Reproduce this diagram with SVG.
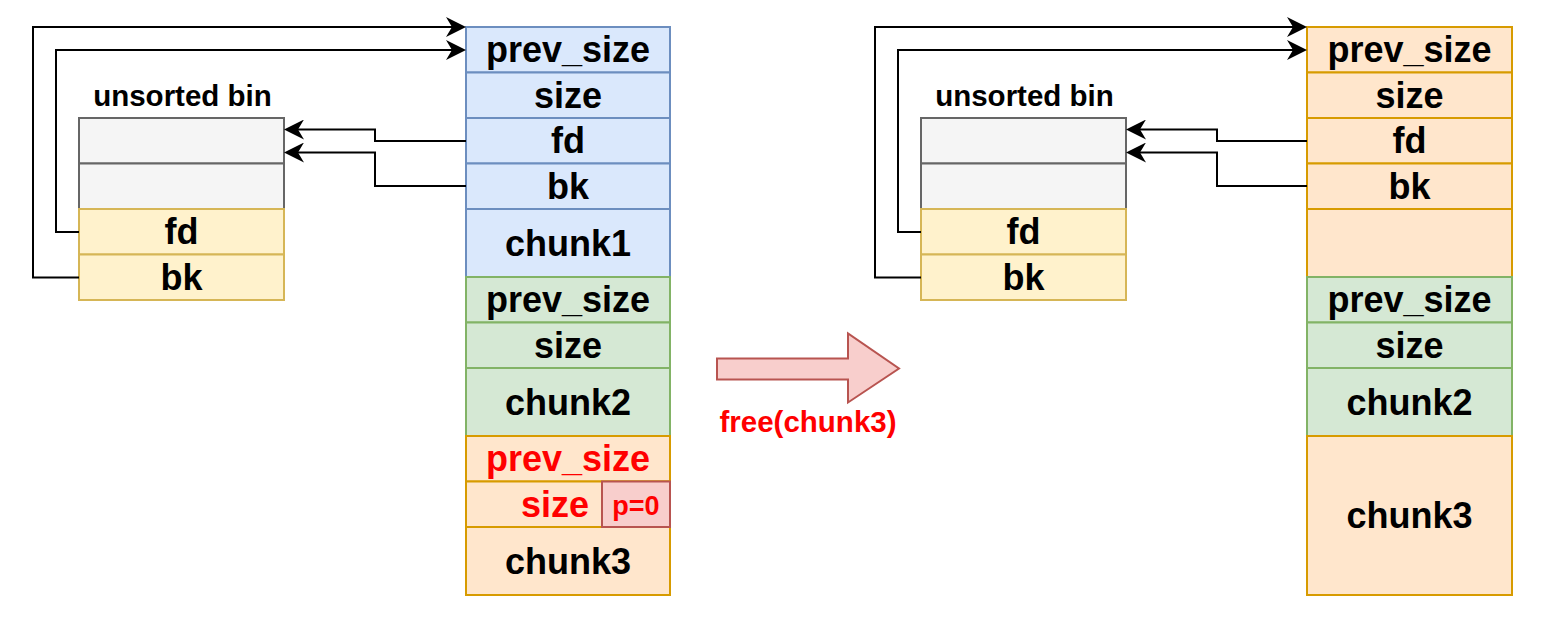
<svg xmlns="http://www.w3.org/2000/svg" width="1557" height="621" viewBox="0 0 1557 621">
<style>
text{font-family:"Liberation Sans",Arial,sans-serif;font-weight:bold;text-anchor:middle;fill:#000}
.big{font-size:36px}
.mid{font-size:29.5px}
.red{fill:#ff0000}
.blue{fill:#dae8fc;stroke:#6c8ebf;stroke-width:2}
.green{fill:#d5e8d4;stroke:#82b366;stroke-width:2}
.orange{fill:#ffe6cc;stroke:#d79b00;stroke-width:2}
.yellow{fill:#fff2cc;stroke:#d6b656;stroke-width:2}
.gray{fill:#f5f5f5;stroke:#666666;stroke-width:2}
.pink{fill:#f8cecc;stroke:#b85450;stroke-width:2}
.conn{fill:none;stroke:#000;stroke-width:2}
</style>
<defs>
<marker id="arr" viewBox="0 0 20 20" refX="8" refY="10" markerWidth="20" markerHeight="20" markerUnits="userSpaceOnUse" orient="auto">
<path d="M0,0 L20,10 L0,20 L6,10 Z" fill="#000"/>
</marker>
</defs>
<rect width="1557" height="621" fill="#fff"/>

<!-- LEFT -->
<g id="left-chunk1">
<rect class="blue" x="466" y="27" width="204" height="45.5"/>
<rect class="blue" x="466" y="72.5" width="204" height="45.5"/>
<rect class="blue" x="466" y="118" width="204" height="45.5"/>
<rect class="blue" x="466" y="163.5" width="204" height="45.5"/>
<rect class="blue" x="466" y="209" width="204" height="68"/>
<text class="big" x="568" y="62">prev_size</text>
<text class="big" x="568" y="108">size</text>
<text class="big" x="568" y="153">fd</text>
<text class="big" x="568" y="199">bk</text>
<text class="big" x="568" y="256">chunk1</text>
</g>
<g id="left-chunk2">
<rect class="green" x="466" y="277" width="204" height="45.5"/>
<rect class="green" x="466" y="322.5" width="204" height="45.5"/>
<rect class="green" x="466" y="368" width="204" height="68"/>
<text class="big" x="568" y="312">prev_size</text>
<text class="big" x="568" y="358">size</text>
<text class="big" x="568" y="415">chunk2</text>
</g>
<g id="left-chunk3">
<rect class="orange" x="466" y="436" width="204" height="45.5"/>
<rect class="orange" x="466" y="481.5" width="204" height="45.5"/>
<rect class="orange" x="466" y="527" width="204" height="68"/>
<text class="big red" x="568" y="471">prev_size</text>
<text class="big red" x="555" y="517">size</text>
<text class="big" x="568" y="574">chunk3</text>
</g>
<g id="left-p0">
<rect class="pink" x="602" y="481.5" width="68" height="45.5"/>
<text class="red" x="636" y="515" style="font-size:27px">p=0</text>
</g>
<g id="left-bin">
<text class="mid" x="182.5" y="106">unsorted bin</text>
<rect class="gray" x="79" y="118" width="205" height="45.5"/>
<rect class="gray" x="79" y="163.5" width="205" height="45.5"/>
<rect class="yellow" x="79" y="209" width="205" height="45.5"/>
<rect class="yellow" x="79" y="254.5" width="205" height="45.5"/>
<text class="big" x="181.5" y="244">fd</text>
<text class="big" x="181.5" y="290">bk</text>
</g>

<!-- ARROW -->
<g id="free-arrow">
<polygon class="pink" points="717,358.5 848,358.5 848,333.5 899,368.5 848,402.5 848,379.5 717,379.5"/>
<text class="mid red" x="808" y="432">free(chunk3)</text>
</g>

<!-- RIGHT -->
<g id="right-chunk1">
<rect class="orange" x="1307" y="27" width="205" height="45.5"/>
<rect class="orange" x="1307" y="72.5" width="205" height="45.5"/>
<rect class="orange" x="1307" y="118" width="205" height="45.5"/>
<rect class="orange" x="1307" y="163.5" width="205" height="45.5"/>
<rect class="orange" x="1307" y="209" width="205" height="68"/>
<text class="big" x="1409.5" y="62">prev_size</text>
<text class="big" x="1409.5" y="108">size</text>
<text class="big" x="1409.5" y="153">fd</text>
<text class="big" x="1409.5" y="199">bk</text>
</g>
<g id="right-chunk2">
<rect class="green" x="1307" y="277" width="205" height="45.5"/>
<rect class="green" x="1307" y="322.5" width="205" height="45.5"/>
<rect class="green" x="1307" y="368" width="205" height="68"/>
<text class="big" x="1409.5" y="312">prev_size</text>
<text class="big" x="1409.5" y="358">size</text>
<text class="big" x="1409.5" y="415">chunk2</text>
</g>
<g id="right-chunk3">
<rect class="orange" x="1307" y="436" width="205" height="159"/>
<text class="big" x="1409.5" y="528">chunk3</text>
</g>
<g id="right-bin">
<text class="mid" x="1024.5" y="106">unsorted bin</text>
<rect class="gray" x="921" y="118" width="205" height="45.5"/>
<rect class="gray" x="921" y="163.5" width="205" height="45.5"/>
<rect class="yellow" x="921" y="209" width="205" height="45.5"/>
<rect class="yellow" x="921" y="254.5" width="205" height="45.5"/>
<text class="big" x="1023.5" y="244">fd</text>
<text class="big" x="1023.5" y="290">bk</text>
</g>

<g id="connectors">
<path class="conn" d="M79,277.5 H33 V27 H454" marker-end="url(#arr)"/>
<path class="conn" d="M79,232 H56 V50 H454" marker-end="url(#arr)"/>
<path class="conn" d="M466,141 H375 V129.5 H296" marker-end="url(#arr)"/>
<path class="conn" d="M466,186 H375 V152.5 H296" marker-end="url(#arr)"/>
<path class="conn" d="M921,277.5 H875 V27 H1295" marker-end="url(#arr)"/>
<path class="conn" d="M921,232 H898 V50 H1295" marker-end="url(#arr)"/>
<path class="conn" d="M1307,141 H1217 V129.5 H1138" marker-end="url(#arr)"/>
<path class="conn" d="M1307,186 H1217 V152.5 H1138" marker-end="url(#arr)"/>
</g>
</svg>
